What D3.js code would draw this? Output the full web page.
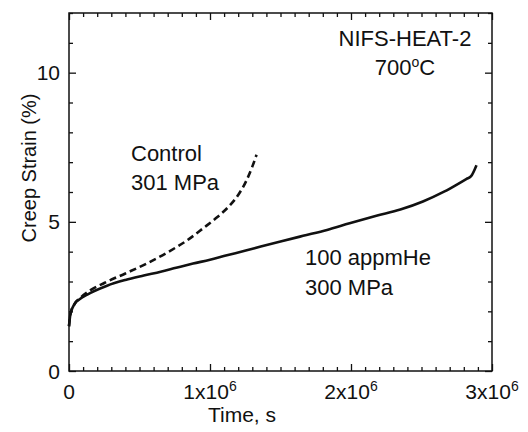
<!DOCTYPE html>
<html>
  <head>
    <meta charset="UTF-8" />
    <script src="https://cdn.jsdelivr.net/npm/d3@7"></script>
    <style>
      body { margin: 0; background: #fff; }
      svg { display: block; font-family: "Liberation Sans", Arial, sans-serif; }
    </style>
  </head>
  <body>
    <svg></svg>
    <script>
      // data (time in s, strain in %)
      const timeHe = [0, 0.01e6, 0.04e6, 0.08e6, 0.13e6, 0.18e6, 0.27e6, 0.4e6, 0.53e6, 0.65e6, 0.76e6, 0.88e6, 1.0e6, 1.12e6, 1.24e6, 1.36e6, 1.5e6, 1.66e6, 1.83e6, 1.99e6, 2.18e6, 2.35e6, 2.51e6, 2.66e6, 2.82e6, 2.85e6, 2.89e6]
      const strainHe = [1.5, 1.9, 2.25, 2.42, 2.56, 2.68, 2.86, 3.05, 3.2, 3.33, 3.46, 3.6, 3.73, 3.88, 4.02, 4.17, 4.34, 4.53, 4.73, 4.95, 5.2, 5.41, 5.68, 6.01, 6.44, 6.52, 6.9]
      const timeCtrl = [0, 0.01e6, 0.04e6, 0.08e6, 0.15e6, 0.25e6, 0.4e6, 0.55e6, 0.7e6, 0.85e6, 0.95e6, 1.05e6, 1.13e6, 1.2e6, 1.26e6, 1.3e6, 1.33e6]
      const strainCtrl = [1.5, 1.9, 2.25, 2.45, 2.7, 2.95, 3.27, 3.6, 3.98, 4.42, 4.78, 5.15, 5.5, 5.9, 6.4, 6.85, 7.25]
      const xTicks = [0, 1e6, 2e6, 3e6]
      const yTicks = [0, 5, 10]

      // 1. setup
      const width = 528
      const height = 432
      const marge = { top: 13, bottom: 61, left: 69, right: 36 }
      const ink = "#111"

      const svg = d3
        .select("svg")
        .attr("width", width)
        .attr("height", height)
        .attr("viewBox", [0, 0, width, height])

      // 2. scales
      const x = d3
        .scaleLinear()
        .domain([0, 3e6])
        .range([marge.left, width - marge.right])
      const y = d3
        .scaleLinear()
        .domain([0, 12])
        .range([height - marge.bottom, marge.top])

      const xMinor = d3.range(0, 31).map((i) => i * 1e5)
      const yMinor = d3.range(0, 13)

      // 3. ticks (all inward, on four sides)
      function ticks(g, axis, minor, major) {
        g.call(axis.tickValues(minor).tickSize(-7).tickFormat(""))
          .call((g) => g.select(".domain").remove())
          .call((g) =>
            g
              .selectAll(".tick")
              .filter((d) => !major.includes(d))
              .select("line")
              .each(function () {
                const l = d3.select(this)
                if (l.attr("x2") != null) l.attr("x2", +l.attr("x2") > 0 ? 4 : -4)
                if (l.attr("y2") != null) l.attr("y2", +l.attr("y2") > 0 ? 4 : -4)
              })
          )
          .call((g) => g.selectAll(".tick line").attr("stroke", ink).attr("stroke-width", 1.3))
      }

      svg.append("g")
        .attr("transform", `translate(0,${height - marge.bottom})`)
        .call((g) => ticks(g, d3.axisBottom(x), xMinor, xTicks))
      svg.append("g")
        .attr("transform", `translate(0,${marge.top})`)
        .call((g) => ticks(g, d3.axisTop(x), xMinor, xTicks))
      svg.append("g")
        .attr("transform", `translate(${marge.left},0)`)
        .call((g) => ticks(g, d3.axisLeft(y), yMinor, yTicks))
      svg.append("g")
        .attr("transform", `translate(${width - marge.right},0)`)
        .call((g) => ticks(g, d3.axisRight(y), yMinor, yTicks))

      // frame
      svg.append("rect")
        .attr("x", marge.left)
        .attr("y", marge.top)
        .attr("width", width - marge.left - marge.right)
        .attr("height", height - marge.top - marge.bottom)
        .attr("fill", "none")
        .attr("stroke", ink)
        .attr("stroke-width", 1.5)

      // 4. tick labels
      svg.append("g")
        .attr("font-size", 21)
        .attr("fill", ink)
        .attr("text-anchor", "end")
        .selectAll("text")
        .data(yTicks)
        .join("text")
        .attr("x", marge.left - 9)
        .attr("y", (d) => y(d))
        .attr("dy", "0.36em")
        .text((d) => d)

      const xl = svg.append("g")
        .attr("font-size", 21)
        .attr("fill", ink)
        .attr("text-anchor", "middle")
        .selectAll("text")
        .data(xTicks)
        .join("text")
        .attr("x", (d) => x(d))
        .attr("y", 399)
      xl.filter((d) => d === 0).text("0")
      xl.filter((d) => d > 0).each(function (d) {
        const t = d3.select(this)
        t.append("tspan").text(`${d / 1e6}x10`)
        t.append("tspan").attr("font-size", 14).attr("dy", -8).text("6")
      })

      // axis titles
      svg.append("text")
        .attr("x", 242)
        .attr("y", 422)
        .attr("font-size", 21)
        .attr("text-anchor", "middle")
        .attr("fill", ink)
        .text("Time, s")

      svg.append("text")
        .attr("transform", `translate(36,168) rotate(-90)`)
        .attr("font-size", 20)
        .attr("text-anchor", "middle")
        .attr("fill", ink)
        .text("Creep Strain (%)")

      // 5. curves
      const line = d3
        .line()
        .curve(d3.curveMonotoneX)
        .x((d) => x(d[0]))
        .y((d) => y(d[1]))

      svg.append("path")
        .datum(d3.zip(timeCtrl, strainCtrl))
        .attr("fill", "none")
        .attr("stroke", ink)
        .attr("stroke-width", 2.6)
        .attr("stroke-dasharray", "7,4")
        .attr("d", line)

      svg.append("path")
        .datum(d3.zip(timeHe, strainHe))
        .attr("fill", "none")
        .attr("stroke", ink)
        .attr("stroke-width", 2.6)
        .attr("stroke-linejoin", "round")
        .attr("d", line)

      // 6. annotations
      const note = svg.append("g").attr("font-size", 22).attr("fill", ink)
      note.append("text").attr("x", 405).attr("y", 46).attr("text-anchor", "middle").text("NIFS-HEAT-2")
      const tc = note.append("text").attr("x", 405).attr("y", 75).attr("text-anchor", "middle")
      tc.append("tspan").text("700")
      tc.append("tspan").attr("font-size", 14).attr("dy", -8).text("o")
      tc.append("tspan").attr("dy", 8).text("C")

      note.append("text").attr("x", 131).attr("y", 161).text("Control")
      note.append("text").attr("x", 131).attr("y", 190).text("301 MPa")
      note.append("text").attr("x", 305).attr("y", 265).text("100 appmHe")
      note.append("text").attr("x", 305).attr("y", 295).text("300 MPa")
    </script>
  </body>
</html>
